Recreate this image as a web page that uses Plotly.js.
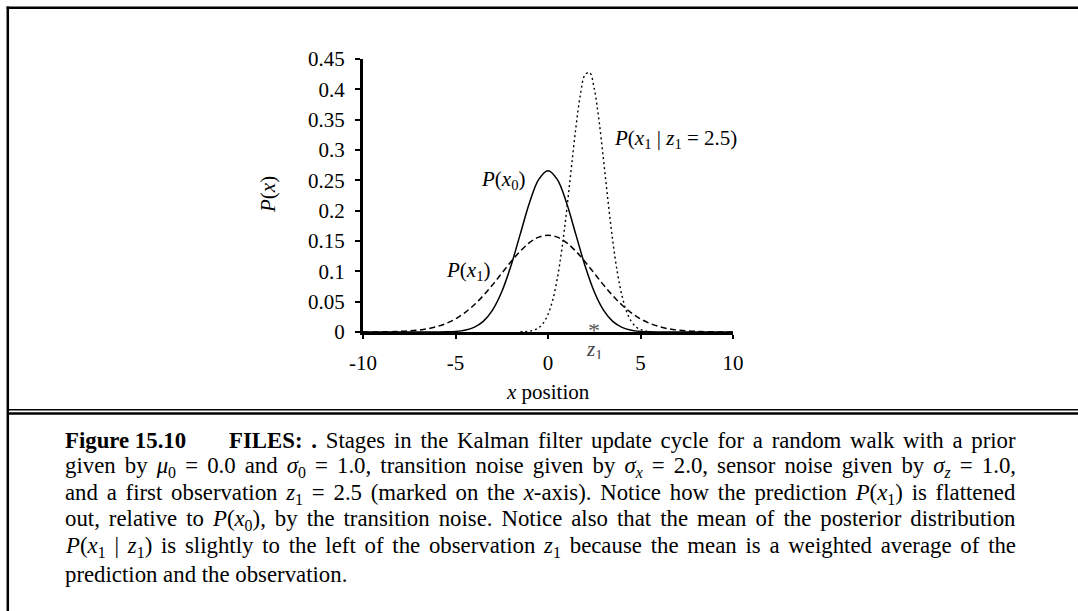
<!DOCTYPE html>
<html>
<head>
<meta charset="utf-8">
<script src="https://cdn.plot.ly/plotly-3.0.1.min.js"></script>
<style>
html,body{margin:0;padding:0;background:#fff;}
#chart{width:1078px;height:611px;}
</style>
</head>
<body>
<div id="chart"></div>
<script>
// ---- data ----
const xGrid = [-10,-9.5,-9,-8.5,-8,-7.5,-7,-6.5,-6,-5.5,-5,-4.5,-4,-3.5,-3,-2.5,-2,-1.5,-1,-0.5,0,0.5,1,1.5,2,2.5,3,3.5,4,4.5,5,5.5,6,6.5,7,7.5,8,8.5,9,9.5,10];
const priorP0 = [0,0,0,0,0,0,0,0,0.0001,0.0003,0.0010,0.0030,0.0076,0.0175,0.0360,0.0663,0.1093,0.1613,0.2130,0.2516,0.2660,0.2516,0.2130,0.1613,0.1093,0.0663,0.0360,0.0175,0.0076,0.0030,0.0010,0.0003,0.0001,0,0,0,0,0,0,0,0];
const predictionP1 = [0.0000,0.0001,0.0002,0.0005,0.0010,0.0018,0.0032,0.0054,0.0090,0.0142,0.0216,0.0316,0.0444,0.0599,0.0777,0.0968,0.1159,0.1333,0.1473,0.1564,0.1596,0.1564,0.1473,0.1333,0.1159,0.0968,0.0777,0.0599,0.0444,0.0316,0.0216,0.0142,0.0090,0.0054,0.0032,0.0018,0.0010,0.0005,0.0002,0.0001,0.0000];
const posteriorX = [-1.5,-1.25,-1,-0.75,-0.5,-0.25,0,0.25,0.5,0.75,1,1.25,1.5,1.75,2,2.25,2.5,2.75,3,3.25,3.5,3.75,4,4.25,4.5,4.75,5,5.25,5.5];
const posteriorP = [0.0002,0.0005,0.0013,0.0032,0.0072,0.0150,0.0290,0.0523,0.0877,0.1367,0.1981,0.2672,0.3351,0.3909,0.4239,0.4277,0.4012,0.3500,0.2840,0.2143,0.1504,0.0982,0.0596,0.0336,0.0176,0.0086,0.0039,0.0017,0.0006];
const observationZ1 = 2.5;
const xTickVals = [-10,-5,0,5,10];
const xTickText = ['-10','-5','0','5','10'];
const yTickVals = [0,0.05,0.1,0.15,0.2,0.25,0.3,0.35,0.4,0.45];
const yTickText = ['0','0.05','0.1','0.15','0.2','0.25','0.3','0.35','0.4','0.45'];
const captionLines = [
  '<b>FILES: .</b> Stages in the Kalman filter update cycle for a random walk with a prior',
  'given by <i>μ</i><sub>0</sub> = 0.0 and <i>σ</i><sub>0</sub> = 1.0, transition noise given by <i>σ</i><sub><i>x</i></sub> = 2.0, sensor noise given by <i>σ</i><sub><i>z</i></sub> = 1.0,',
  'and a first observation <i>z</i><sub>1</sub> = 2.5 (marked on the <i>x</i>-axis). Notice how the prediction <i>P</i>(<i>x</i><sub>1</sub>) is flattened',
  'out, relative to <i>P</i>(<i>x</i><sub>0</sub>), by the transition noise. Notice also that the mean of the posterior distribution',
  '<i>P</i>(<i>x</i><sub>1</sub> | <i>z</i><sub>1</sub>) is slightly to the left of the observation <i>z</i><sub>1</sub> because the mean is a weighted average of the',
  'prediction and the observation.'
];

// ---- layout geometry (pixels) ----
const W = 1078, H = 611;
const L = 363, R = 733, T = 59, B = 332;
const pw = R - L, ph = B - T;
const px = v => (v - L) / pw;       // pixel x -> paper
const py = v => (B - v) / ph;       // pixel y -> paper
const FONT = 'Liberation Serif, Times New Roman, serif';
const CAP = 22.8;
const JUSTIFY_RIGHT = 1016;

const traces = [
  {x: xGrid, y: priorP0, type: 'scatter', mode: 'lines', name: 'P(x0)',
   line: {color: '#000', width: 1.5, shape: 'spline', smoothing: 1}},
  {x: xGrid, y: predictionP1, type: 'scatter', mode: 'lines', name: 'P(x1)',
   line: {color: '#000', width: 1.5, dash: '6px,3.5px', shape: 'spline', smoothing: 1}},
  {x: posteriorX, y: posteriorP, type: 'scatter', mode: 'lines', name: 'P(x1|z1=2.5)',
   line: {color: '#000', width: 1.4, dash: '2px,3px', shape: 'spline', smoothing: 1}}
];

const ann = [];
const capY = [440, 467, 494, 520, 547, 574];
ann.push({xref: 'paper', yref: 'paper', x: px(63), y: py(capY[0]), xanchor: 'left', yanchor: 'middle', align: 'left',
  text: '<b>Figure 15.10</b>', showarrow: false, font: {family: FONT, size: CAP, color: '#000'}});
const captionStart = ann.length;
captionLines.forEach((t, i) => {
  ann.push({xref: 'paper', yref: 'paper', x: px(i === 0 ? 227 : 63), y: py(capY[i]), xanchor: 'left', yanchor: 'middle', align: 'left',
    text: t, showarrow: false, font: {family: FONT, size: CAP, color: '#000'}});
});
// curve labels
ann.push({xref: 'x', yref: 'y', x: -1.08, y: 0.25, xanchor: 'right', yanchor: 'middle', showarrow: false,
  text: '<i>P</i>(<i>x</i><sub>0</sub>)', font: {family: FONT, size: 21, color: '#000'}});
ann.push({xref: 'x', yref: 'y', x: -2.97, y: 0.1, xanchor: 'right', yanchor: 'middle', showarrow: false,
  text: '<i>P</i>(<i>x</i><sub>1</sub>)', font: {family: FONT, size: 21, color: '#000'}});
ann.push({xref: 'x', yref: 'y', x: 3.46, y: 0.318, xanchor: 'left', yanchor: 'middle', showarrow: false,
  text: '<i>P</i>(<i>x</i><sub>1</sub> | <i>z</i><sub>1</sub> = 2.5)', font: {family: FONT, size: 21, color: '#000'}});
// observation marker and label
ann.push({xref: 'x', yref: 'y', x: observationZ1, y: 0, yshift: 2, xanchor: 'center', yanchor: 'middle', showarrow: false,
  height: 12, text: '*', font: {family: FONT, size: 24, color: '#5a5a5a'}});
ann.push({xref: 'x', yref: 'y', x: observationZ1, y: 0, yshift: -18, xanchor: 'center', yanchor: 'middle', showarrow: false,
  height: 18, text: '<i>z</i><sub>1</sub>', font: {family: FONT, size: 21, color: '#444'}});
// axis titles
ann.push({xref: 'paper', yref: 'paper', x: 0.5, y: py(392), xanchor: 'center', yanchor: 'middle', showarrow: false,
  text: '<i>x</i> position', font: {family: FONT, size: 21, color: '#000'}});
ann.push({xref: 'paper', yref: 'paper', x: px(268), y: py(195), xanchor: 'center', yanchor: 'middle', showarrow: false,
  textangle: -90, text: '<i>P</i>(<i>x</i>)', font: {family: FONT, size: 21, color: '#000'}});

const shapes = [
  {type: 'line', xref: 'paper', yref: 'paper', x0: px(7.8), x1: px(7.8), y0: py(6.6), y1: py(620), line: {color: '#000', width: 2.5}},
  {type: 'line', xref: 'paper', yref: 'paper', x0: px(6.6), x1: px(1090), y0: py(7.8), y1: py(7.8), line: {color: '#000', width: 2.5}},
  {type: 'line', xref: 'paper', yref: 'paper', x0: px(7.8), x1: px(1090), y0: py(409.8), y1: py(409.8), line: {color: '#000', width: 1.5}},
  {type: 'line', xref: 'paper', yref: 'paper', x0: px(7.8), x1: px(1090), y0: py(413.5), y1: py(413.5), line: {color: '#000', width: 2.5}}
];

const layout = {
  width: W, height: H,
  margin: {l: L, r: W - R, t: T, b: H - B, pad: 0},
  paper_bgcolor: '#fff', plot_bgcolor: '#fff',
  showlegend: false,
  font: {family: FONT, size: 21, color: '#000'},
  xaxis: {range: [-10, 10], tickvals: xTickVals, ticktext: xTickText, showline: true, linecolor: '#000', linewidth: 3,
    ticks: 'outside', ticklen: 4, tickwidth: 2, tickcolor: '#000', showgrid: false, zeroline: false,
    tickfont: {family: FONT, size: 21, color: '#000'}, ticklabelstandoff: 6, fixedrange: true},
  yaxis: {range: [0, 0.45], tickvals: yTickVals, ticktext: yTickText, showline: true, linecolor: '#000', linewidth: 3,
    ticks: 'outside', ticklen: 5, tickwidth: 2, tickcolor: '#000', showgrid: false, zeroline: false,
    tickfont: {family: FONT, size: 21, color: '#000'}, ticklabelstandoff: 6, fixedrange: true},
  annotations: ann,
  shapes: shapes
};

function justifyCaption() {
  const gd = document.getElementById('chart');
  const groups = gd.querySelectorAll('.annotation');
  groups.forEach(g => {
    const idx = +g.getAttribute('data-index');
    const li = idx - captionStart;
    if (li < 0 || li > 4) return;
    const t = g.querySelector('text.annotation-text');
    if (!t) return;
    t.style.wordSpacing = '0px';
    const right = t.getBoundingClientRect().right;
    const n = (t.textContent.match(/ /g) || []).length;
    if (n > 0 && right < JUSTIFY_RIGHT) {
      t.style.wordSpacing = ((JUSTIFY_RIGHT - right) / n).toFixed(2) + 'px';
    }
  });
}

Plotly.newPlot('chart', traces, layout, {displayModeBar: false, staticPlot: true}).then(justifyCaption);
</script>
</body>
</html>
